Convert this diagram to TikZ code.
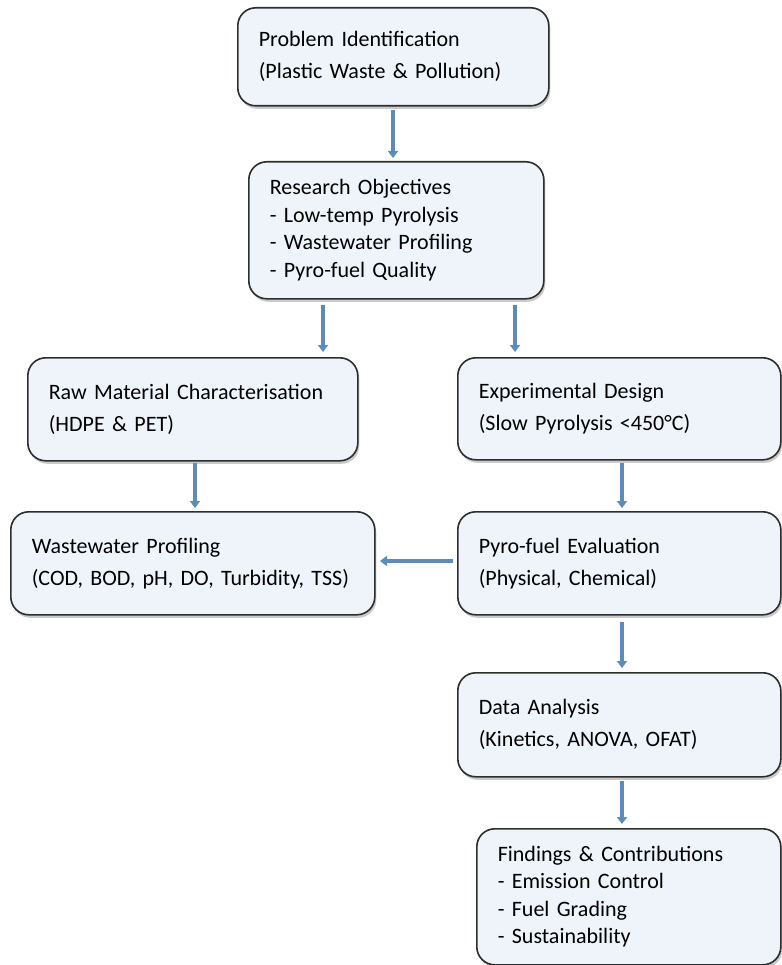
\documentclass[tikz,border=0pt]{standalone}
\usepackage{fontspec}
\setmainfont{Carlito}
\usetikzlibrary{arrows.meta,shadows}
\definecolor{boxfill}{HTML}{EEF4FA}
\definecolor{boxline}{HTML}{2E2E2E}
\definecolor{arrowblue}{HTML}{5B8DB8}
\tikzset{
  stagebox/.style={draw=boxline, line width=1.6pt, fill=boxfill, rounded corners=18pt,
    anchor=north west, inner xsep=21pt, inner ysep=0pt, align=left,
    font=\fontsize{22}{32}\selectfont,
    drop shadow={shadow xshift=1.5pt, shadow yshift=-3pt, opacity=0.35, fill=black!60}},
  listbox/.style={stagebox, font=\fontsize{22}{27.5}\selectfont},
  flow/.style={draw=arrowblue, line width=3.2pt, -{Triangle[width=10pt,length=7pt]}}
}
\begin{document}
\begin{tikzpicture}[x=1pt,y=-1pt]
\useasboundingbox (0,0) rectangle (781,965);
\node[stagebox, minimum width=311pt, minimum height=98pt, text width=269pt] (prob) at (237,7)
  {Problem Identification\\(Plastic Waste \& Pollution)};
\node[listbox, minimum width=295pt, minimum height=137pt, text width=253pt] (obj) at (248,161)
  {Research Objectives\\- Low-temp Pyrolysis\\- Wastewater Profiling\\- Pyro-fuel Quality};
\node[stagebox, minimum width=330pt, minimum height=103pt, text width=288pt] (raw) at (27,357)
  {Raw Material Characterisation\\(HDPE \& PET)};
\node[stagebox, minimum width=323pt, minimum height=102pt, text width=281pt] (exp) at (457,357)
  {Experimental Design\\(Slow Pyrolysis <450°C)};
\node[stagebox, minimum width=364pt, minimum height=103pt, text width=322pt, inner xsep=20pt] (ww) at (10,511)
  {Wastewater Profiling\\(COD, BOD, pH, DO, Turbidity, TSS)};
\node[stagebox, minimum width=323pt, minimum height=103pt, text width=281pt] (pyro) at (457,511)
  {Pyro-fuel Evaluation\\(Physical, Chemical)};
\node[stagebox, minimum width=323pt, minimum height=104pt, text width=281pt] (data) at (457,672)
  {Data Analysis\\(Kinetics, ANOVA, OFAT)};
\node[listbox, minimum width=304pt, minimum height=136pt, text width=262pt] (find) at (476,828)
  {Findings \& Contributions\\- Emission Control\\- Fuel Grading\\- Sustainability};
\draw[flow] (393,110) coordinate (a1) -- (393,158) coordinate (a2);
\draw[flow] (323,305) coordinate (b1) -- (323,352) coordinate (b2);
\draw[flow] (515,305) coordinate (c1) -- (515,352) coordinate (c2);
\draw[flow] (195,463) coordinate (d1) -- (195,508) coordinate (d2);
\draw[flow] (622,463) coordinate (e1) -- (622,508) coordinate (e2);
\draw[flow] (453,561) coordinate (f1) -- (380,561) coordinate (f2);
\draw[flow] (622,622) coordinate (g1) -- (622,668) coordinate (g2);
\draw[flow] (622,781) coordinate (h1) -- (622,824) coordinate (h2);
\end{tikzpicture}
\end{document}
